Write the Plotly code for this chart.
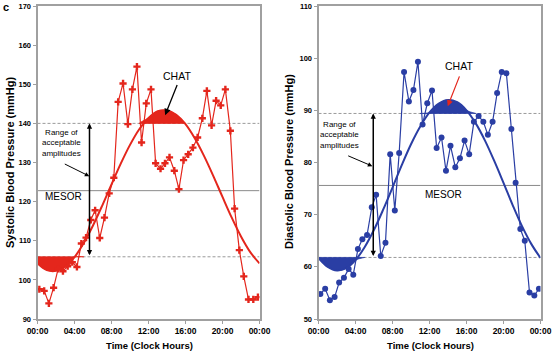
import plotly.graph_objects as go

# ---------------- data ----------------
sample_hours = [0.2, 0.72, 1.23, 1.74, 2.23, 2.75, 3.26, 3.76, 4.26, 4.74, 5.25, 5.76,
                6.23, 6.73, 7.24, 7.75, 8.25, 8.72, 9.25, 9.77, 10.26, 10.75, 11.25, 11.76,
                12.27, 12.77, 13.3, 13.78, 14.27, 14.79, 15.29, 15.79, 16.29, 16.8, 17.31, 17.82,
                18.31, 18.82, 19.31, 19.81, 20.31, 20.85, 21.31, 21.82, 22.3, 22.81, 23.33, 23.83]

systolic = [97.6, 97.2, 94.0, 98.0, 102.8, 102.2, 103.5, 104.5, 103.3, 109.3, 110.8, 115.3,
            117.8, 110.7, 115.9, 122.1, 126.1, 145.5, 150.2, 139.8, 148.7, 154.5, 135.1, 145.1,
            148.7, 129.8, 128.4, 129.8, 131.3, 127.9, 123.2, 130.6, 132.1, 133.8, 136.4, 141.3,
            148.3, 139.5, 145.8, 144.6, 148.7, 138.1, 118.2, 107.6, 100.9, 95.0, 95.0, 95.6]

diastolic = [54.8, 55.8, 53.6, 54.2, 57.0, 57.9, 59.6, 58.5, 63.4, 65.3, 66.1, 71.4,
             73.8, 62.1, 64.6, 81.6, 70.8, 81.8, 97.35, 91.7, 93.9, 99.3, 87.3, 91.35,
             93.8, 82.8, 84.8, 78.4, 83.2, 79.1, 80.8, 84.2, 81.6, 87.8, 88.9, 87.8,
             85.3, 87.8, 93.3, 97.35, 97.1, 86.4, 76.1, 67.25, 65.0, 55.1, 54.5, 55.8]

fit_hours = list(range(0, 25))
sys_fit = [104.2, 102.5, 102.3, 103.4, 105.8, 109.4, 113.9, 119.0, 124.4, 129.7, 134.5, 138.5,
           141.4, 143.1, 143.3, 142.2, 139.8, 136.2, 131.7, 126.6, 121.2, 115.9, 111.1, 107.1, 104.2]
dia_fit = [61.7, 60.0, 59.3, 59.75, 61.3, 63.8, 67.1, 71.0, 75.2, 79.5, 83.5, 86.9,
           89.6, 91.3, 92.0, 91.55, 90.0, 87.5, 84.2, 80.3, 76.1, 71.8, 67.8, 64.4, 61.7]

sys_mesor, sys_upper, sys_lower = 122.8, 140.0, 105.9
dia_mesor, dia_upper, dia_lower = 75.6, 89.4, 61.8

tick_hours = [0, 4, 8, 12, 16, 20, 24]
tick_labels = ["00:00", "04:00", "08:00", "12:00", "16:00", "20:00", "00:00"]

# ---------------- style ----------------
RED = "rgb(228,38,28)"
BLUE = "rgb(42,62,164)"
GRAY_AX = "#a0a0a0"
FONT = "Liberation Sans, Arial, sans-serif"
W, H = 553, 352


def px(x):
    return x / W


def py(y):
    return 1 - y / H


fig = go.Figure()


def add_fill(xa, ya, hx, edge, base, color):
    xs = list(hx) + list(reversed(hx))
    ys = list(edge) + [base] * len(hx)
    fig.add_trace(go.Scatter(x=xs, y=ys, mode="lines", xaxis=xa, yaxis=ya, fill="toself",
                             fillcolor=color, line=dict(width=0.8, color=color, shape="spline",
                                                        smoothing=0.9),
                             hoverinfo="skip"))


def add_panel(xa, ya, fit, data, mesor, upper, lower, color, symbol, msize):
    # reference lines
    fig.add_trace(go.Scatter(x=[0, 24], y=[upper, upper], mode="lines", xaxis=xa, yaxis=ya,
                             line=dict(color="#9a9a9a", width=1, dash="3px,2px"), hoverinfo="skip"))
    fig.add_trace(go.Scatter(x=[0, 24], y=[lower, lower], mode="lines", xaxis=xa, yaxis=ya,
                             line=dict(color="#9a9a9a", width=1, dash="3px,2px"), hoverinfo="skip"))
    fig.add_trace(go.Scatter(x=[0, 24], y=[mesor, mesor], mode="lines", xaxis=xa, yaxis=ya,
                             line=dict(color="#8a8a8a", width=1), hoverinfo="skip"))
    # CHAT fill (above upper limit)
    idx = [i for i, v in enumerate(fit) if v > upper]
    lo_i, hi_i = max(idx[0] - 1, 0), min(idx[-1] + 1, len(fit) - 1)
    add_fill(xa, ya, fit_hours[lo_i:hi_i + 1],
             [max(v, upper) for v in fit[lo_i:hi_i + 1]], upper, color)
    # fill below lower limit
    idx = [i for i, v in enumerate(fit[:12]) if v < lower]
    hi_i = min(idx[-1] + 1, len(fit) - 1)
    add_fill(xa, ya, fit_hours[0:hi_i + 1],
             [min(v, lower) for v in fit[0:hi_i + 1]], lower, color)
    # fitted cosine
    fig.add_trace(go.Scatter(x=fit_hours, y=fit, mode="lines", xaxis=xa, yaxis=ya,
                             line=dict(color=color, width=2, shape="spline"), hoverinfo="skip"))
    # data
    fig.add_trace(go.Scatter(x=sample_hours, y=data, mode="lines+markers", xaxis=xa, yaxis=ya,
                             line=dict(color=color, width=1.2),
                             marker=dict(symbol=symbol, size=msize, color=color,
                                         line=dict(width=0))))


add_panel("x", "y", sys_fit, systolic, sys_mesor, sys_upper, sys_lower, RED, "cross", 6)
add_panel("x2", "y2", dia_fit, diastolic, dia_mesor, dia_upper, dia_lower, BLUE, "circle", 6)

ydom = [py(319), py(6)]
common_x = dict(range=[0, 24], tickvals=tick_hours, ticktext=tick_labels, ticks="outside",
                ticklen=3, tickcolor=GRAY_AX, tickwidth=1, showline=True, linecolor=GRAY_AX,
                linewidth=2, mirror=True, showgrid=False, zeroline=False, automargin=False,
                tickfont=dict(family=FONT, size=8.5, color="black", weight="bold"))
common_y = dict(ticks="outside", ticklen=3, tickcolor=GRAY_AX, tickwidth=1, showline=True,
                linecolor=GRAY_AX, linewidth=2, mirror=True, showgrid=False, zeroline=False,
                automargin=False, dtick=10,
                tickfont=dict(family=FONT, size=7.5, color="black", weight="bold"))

fig.update_layout(
    width=W, height=H, margin=dict(l=0, r=0, t=0, b=0, autoexpand=False),
    paper_bgcolor="white", plot_bgcolor="white", showlegend=False,
    xaxis=dict(domain=[px(37.5), px(259.5)], anchor="y", **common_x),
    yaxis=dict(domain=ydom, anchor="x", range=[90, 170], **common_y),
    xaxis2=dict(domain=[px(318.5), px(540.5)], anchor="y2", **common_x),
    yaxis2=dict(domain=ydom, anchor="x2", range=[50, 110], **common_y),
)

ann = []


def text(x, y, t, size, xref="x", yref="y", bold=False, angle=0, color="black"):
    ann.append(dict(x=x, y=y, xref=xref, yref=yref, text=t, showarrow=False, textangle=angle,
                    font=dict(family=FONT, size=size, color=color,
                              weight="bold" if bold else "normal"),
                    xanchor="center", yanchor="middle", align="center"))


def arrow(x, y, ax, ay, xref, yref, color="black", both=False, head=2, width=1.3, size=0.8):
    ann.append(dict(x=x, y=y, ax=ax, ay=ay, xref=xref, yref=yref, axref=xref, ayref=yref,
                    text="", showarrow=True, arrowhead=head, arrowsize=size, arrowwidth=width,
                    arrowcolor=color, arrowside="end+start" if both else "end",
                    startarrowhead=head, startarrowsize=size, standoff=0, startstandoff=0))


# left panel
text(15.1, 152.1, "CHAT", 10.5)
arrow(13.8, 142.1, 15.16, 150.2, "x", "y", head=2, width=1.3, size=1)
text(2.62, 135.0, "Range of<br>acceptable<br>amplitudes", 8)
arrow(5.6, 126.5, 2.79, 129.8, "x", "y", head=2, width=1, size=0.9)
arrow(5.62, sys_upper, 5.62, sys_lower, "x", "y", both=True, head=2, width=1.5, size=0.7)
text(2.86, 121.2, "MESOR", 10)
# right panel
text(15.14, 98.5, "CHAT", 10.5, xref="x2", yref="y2")
arrow(13.97, 90.8, 15.3, 96.8, "x2", "y2", color=RED, head=2, width=1.2, size=1)
text(2.32, 85.3, "Range of<br>acceptable<br>amplitudes", 8, xref="x2", yref="y2")
arrow(5.82, 79.3, 3.05, 81.4, "x2", "y2", head=2, width=1, size=0.9)
arrow(5.92, dia_upper, 5.92, dia_lower, "x2", "y2", both=True, head=2, width=1.5, size=0.7)
text(13.55, 73.9, "MESOR", 10, xref="x2", yref="y2")

# axis titles and panel letter
text(px(149), py(345), "Time (Clock Hours)", 9.5, "paper", "paper", bold=True)
text(px(430), py(345), "Time (Clock Hours)", 9.5, "paper", "paper", bold=True)
text(px(9.5), py(162.5), "Systolic Blood Pressure (mmHg)", 11, "paper", "paper", bold=True, angle=-90)
text(px(289), py(162), "Diastolic Blood Pressure (mmHg)", 11, "paper", "paper", bold=True, angle=-90)
text(px(6), py(7), "c", 11, "paper", "paper", bold=True)

fig.update_layout(annotations=ann)
fig.write_html("out.html", config={"displayModeBar": False},
               post_script="document.body.style.margin='0px';document.body.style.padding='0px';")
